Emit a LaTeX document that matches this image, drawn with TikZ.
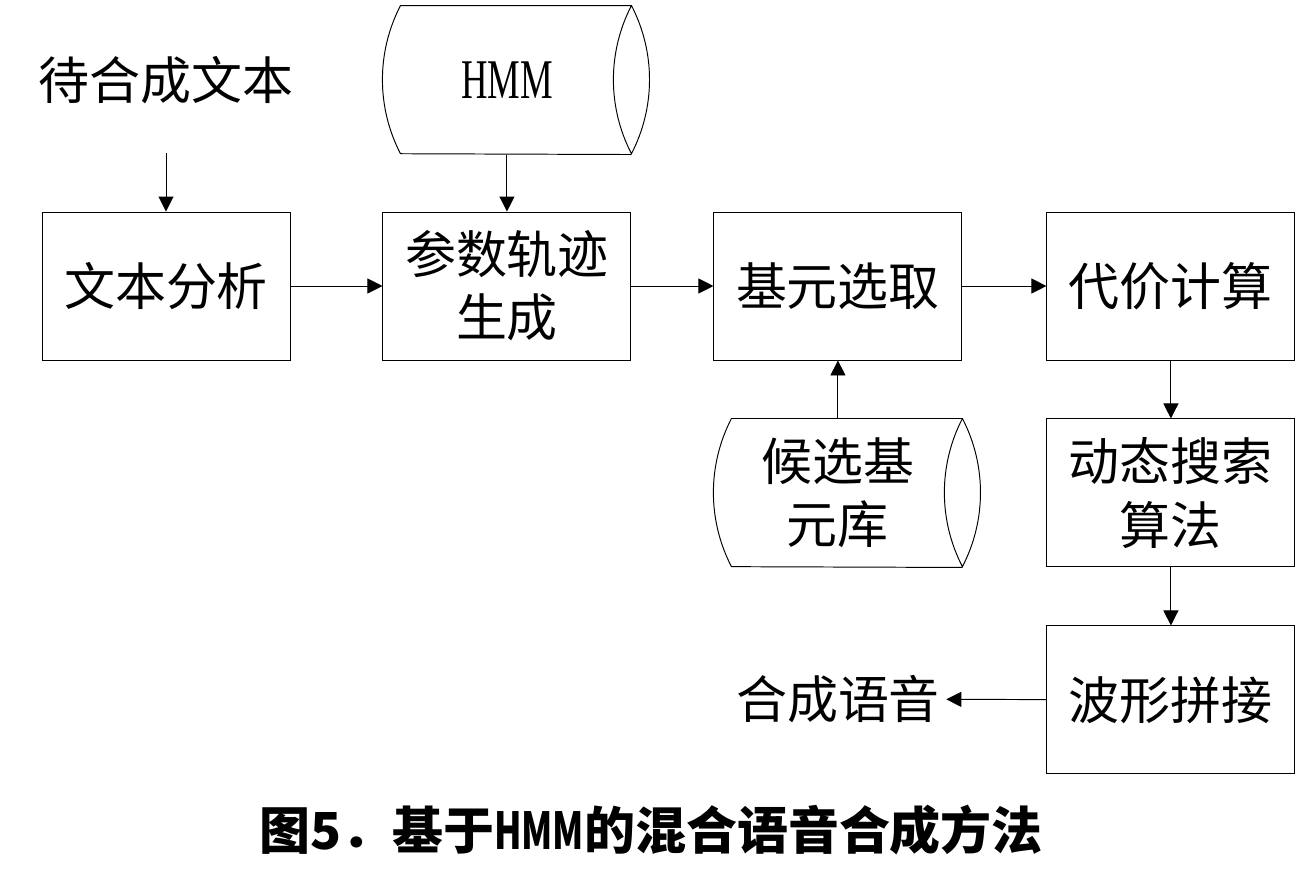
\documentclass[tikz,border=0pt]{standalone}
\usepackage{fontspec}
\setmainfont{Liberation Serif}
\newfontfamily\cjk{Noto Sans CJK SC}
\usetikzlibrary{positioning, arrows.meta}

\begin{document}
\begin{tikzpicture}[
    line width=0.55pt,
    every node/.style={font=\cjk\fontsize{29}{36}\selectfont, align=center},
    box/.style={draw, rectangle, minimum width=4.96cm, minimum height=2.96cm, inner sep=0pt},
    store/.style={rectangle, minimum width=4.96cm, minimum height=2.96cm, inner sep=0pt},
    arr/.style={-{Triangle[length=0.3cm, width=0.3cm]}}
]
    \useasboundingbox (0, 0) rectangle (26.24, -17.6);
    \node (input) at (3.32, -1.6) {待合成文本};
    \node (analyse) [box] at (3.32, -5.72) {文本分析};
    \node (param) [box, right=1.84cm of analyse] {参数轨迹\\生成};
    \node (hmm) [store, above=1.14cm of param] {\fontspec{Liberation Serif}\scalebox{0.72}[1.1]{HMM}};
    \node (select) [box, right=1.64cm of param] {基元选取};
    \node (cost) [box, right=1.68cm of select] {代价计算};
    \node (search) [box, below=1.16cm of cost] {动态搜索\\算法};
    \node (concat) [box, below=1.16cm of search] {波形拼接};
    \node (units) [store, below=1.16cm of select] {候选基\\元库};
    \node (speech) at (16.76, -13.98) {合成语音};
    \node (caption) at (13.02, -16.6) {\bfseries 图5．基于\scalebox{0.7}[1]{HMM}的混合语音合成方法};
    % database outlines
    \draw (hmm.north east) arc[start angle=27.4, end angle=-27.4, radius=3.22cm]
        arc[start angle=207.4, end angle=152.6, radius=3.22cm]
        -- ([xshift=0.36cm]hmm.north west)
        arc[start angle=152.6, end angle=207.4, radius=3.22cm] -- (hmm.south east);
    \draw (units.north east) arc[start angle=27.4, end angle=-27.4, radius=3.22cm]
        arc[start angle=207.4, end angle=152.6, radius=3.22cm]
        -- ([xshift=0.36cm]units.north west)
        arc[start angle=152.6, end angle=207.4, radius=3.22cm] -- (units.south east);
    % connectors
    \draw [arr, shorten <=0.85cm] (input) -- (analyse);
    \draw [arr] (hmm) -- (param);
    \draw [arr] (analyse) -- (param);
    \draw [arr] (param) -- (select);
    \draw [arr] (select) -- (cost);
    \draw [arr] (units) -- (select);
    \draw [arr] (cost) -- (search);
    \draw [arr] (search) -- (concat);
    \draw [arr] (concat) -- (speech);
\end{tikzpicture}
\end{document}
